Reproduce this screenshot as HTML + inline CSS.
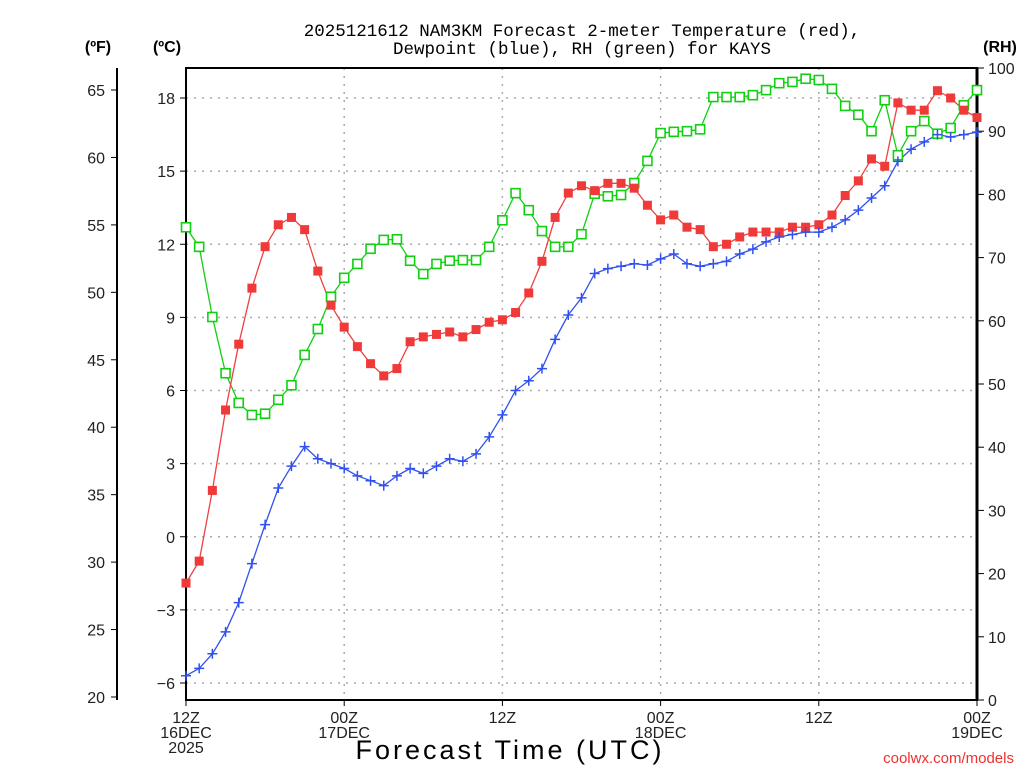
<!DOCTYPE html>
<html><head><meta charset="utf-8">
<style>
html,body{margin:0;padding:0;background:#fff;}
svg{display:block;font-family:"Liberation Sans",sans-serif;}
</style></head>
<body>
<svg id="chart" width="1024" height="768" viewBox="0 0 1024 768">
<g id="grid"></g>
<g id="axes"></g>
<g id="series"></g>
<text x="582" y="36" font-size="17.5" font-family="Liberation Mono, monospace" text-anchor="middle">2025121612 NAM3KM Forecast 2-meter Temperature (red),</text>
<text x="582" y="54" font-size="17.5" font-family="Liberation Mono, monospace" text-anchor="middle">Dewpoint (blue), RH (green) for KAYS</text>
<text x="98" y="52" font-size="16" font-weight="bold" text-anchor="middle">(ºF)</text>
<text x="167" y="52" font-size="16" font-weight="bold" text-anchor="middle">(ºC)</text>
<text x="1000" y="52" font-size="16" font-weight="bold" text-anchor="middle">(RH)</text>
<text x="510" y="759" font-size="27" text-anchor="middle" letter-spacing="3">Forecast Time (UTC)</text>
<text x="1014" y="763" font-size="15" fill="#f03030" text-anchor="end">coolwx.com/models</text>
</svg>
<script>
const hours = [];
for (let i = 0; i <= 60; i++) hours.push(i);
const tempC = [-1.9,-1.0,1.9,5.2,7.9,10.2,11.9,12.8,13.1,12.6,10.9,9.5,8.6,7.8,7.1,6.6,6.9,8.0,8.2,8.3,8.4,8.2,8.5,8.8,8.9,9.2,10.0,11.3,13.1,14.1,14.4,14.2,14.5,14.5,14.3,13.6,13.0,13.2,12.7,12.6,11.9,12.0,12.3,12.5,12.5,12.5,12.7,12.7,12.8,13.2,14.0,14.6,15.5,15.2,17.8,17.5,17.5,18.3,18.0,17.5,17.2];
const dewC = [-5.7,-5.4,-4.8,-3.9,-2.7,-1.1,0.5,2.0,2.9,3.7,3.2,3.0,2.8,2.5,2.3,2.1,2.5,2.8,2.6,2.9,3.2,3.1,3.4,4.1,5.0,6.0,6.4,6.9,8.1,9.1,9.8,10.8,11.0,11.1,11.2,11.15,11.4,11.6,11.2,11.1,11.2,11.3,11.6,11.8,12.1,12.3,12.4,12.5,12.5,12.7,13.0,13.4,13.9,14.4,15.4,15.9,16.2,16.5,16.4,16.5,16.6];
const rh = [74.8,71.7,60.6,51.7,47.0,45.1,45.3,47.5,49.8,54.6,58.7,63.8,66.8,69.0,71.4,72.8,72.9,69.5,67.4,69.0,69.5,69.6,69.6,71.7,75.9,80.2,77.5,74.2,71.7,71.7,73.7,80.1,79.7,79.9,81.8,85.3,89.7,89.9,90.0,90.3,95.4,95.4,95.4,95.7,96.5,97.6,97.8,98.3,98.1,96.7,94.0,92.6,90.0,94.9,86.2,90.0,91.6,89.6,90.5,94.1,96.5];
const fTicks = [20,25,30,35,40,45,50,55,60,65];
const cTicks = [-6,-3,0,3,6,9,12,15,18];
const rhTicks = [0,10,20,30,40,50,60,70,80,90,100];
const xTickHours = [0,12,24,36,48,60];
const xTickLabels = [["12Z","16DEC","2025"],["00Z","17DEC"],["12Z"],["00Z","18DEC"],["12Z"],["00Z","19DEC"]];

const L=186,R=977,T=68,B=700;
const xs = h => L + (h/60)*(R-L);
const yC = c => 98 + (18-c)*24.375;
const yF = f => 90 + (65-f)*(607/45);
const yRH = r => B - r*(B-T)/100;
const NS="http://www.w3.org/2000/svg";
function mk(tag, attrs, parent){const e=document.createElementNS(NS,tag);for(const k in attrs)e.setAttribute(k,attrs[k]);parent.appendChild(e);return e;}
const grid=document.getElementById('grid'), axes=document.getElementById('axes'), ser=document.getElementById('series');

cTicks.forEach(c=>{
  const y=yC(c);
  const g=mk('line',{x1:L,x2:R,y1:y,y2:y,stroke:'#aaa','stroke-width':1.5,'stroke-dasharray':'2 6'},grid);
  
  
  const t=mk('line',{x1:L-6,x2:L,y1:y,y2:y,stroke:'#000','stroke-width':1},axes);
  
  
  const tx=mk('text',{x:175,y:y+6,'font-size':16,'text-anchor':'end',fill:'#222'},axes);
  tx.textContent=(c<0?'\u2212'+(-c):c);
  
  
});
xTickHours.forEach((h,i)=>{
  const x=xs(h);
  if(h>0&&h<60){
    const g=mk('line',{x1:x,x2:x,y1:T,y2:B,stroke:'#aaa','stroke-width':1.5,'stroke-dasharray':'2 6'},grid);
    
    
  }
  const t=mk('line',{x1:x,x2:x,y1:B,y2:B+6,stroke:'#000','stroke-width':1},axes);
  
  
  xTickLabels[i].forEach((s,j)=>{
    const tx=mk('text',{x:x,y:723+j*15,'font-size':16,'text-anchor':'middle',fill:'#222'},axes);
    tx.textContent=s;
    
    
  });
});
fTicks.forEach(f=>{
  const y=yF(f);
  const t=mk('line',{x1:111,x2:117,y1:y,y2:y,stroke:'#000','stroke-width':1},axes);
  
  
  const tx=mk('text',{x:105,y:y+6,'font-size':16,'text-anchor':'end',fill:'#222'},axes);
  tx.textContent=f;
  
  
});
rhTicks.forEach(r=>{
  const y=yRH(r);
  const t=mk('line',{x1:R,x2:R+7,y1:y,y2:y,stroke:'#000','stroke-width':1},axes);
  
  
  const tx=mk('text',{x:988,y:y+6,'font-size':16,'text-anchor':'start',fill:'#222'},axes);
  tx.textContent=r;
  
  
});
const fa=mk('line',{x1:117,x2:117,y1:T,y2:B,stroke:'#000','stroke-width':2},axes);


const fr=mk('rect',{x:L,y:T,width:R-L,height:B-T,fill:'none',stroke:'#000','stroke-width':2},axes);


const ra=mk('line',{x1:R,x2:R,y1:T,y2:B,stroke:'#000','stroke-width':3},axes);



function line(vals, yf, color, name){
  const pts=vals.map((v,i)=>xs(hours[i]).toFixed(1)+','+yf(v).toFixed(1)).join(' ');
  const p=mk('polyline',{points:pts,fill:'none',stroke:color,'stroke-width':1.3},ser);
  
  
}
line(rh,yRH,'#10d010','rh-line');
line(tempC,yC,'#f04040','temperature-line');
line(dewC,yC,'#3050f0','dewpoint-line');
rh.forEach((v,i)=>{
  const x=xs(hours[i]),y=yRH(v);
  const m=mk('rect',{x:x-4.5,y:y-4.5,width:9,height:9,fill:'#fff',stroke:'#10d010','stroke-width':1.6},ser);
  
  
});
tempC.forEach((v,i)=>{
  const x=xs(hours[i]),y=yC(v);
  const m=mk('rect',{x:x-4.5,y:y-4.5,width:9,height:9,fill:'#f03a3a'},ser);
  
  
});
dewC.forEach((v,i)=>{
  const x=xs(hours[i]),y=yC(v);
  const m=mk('path',{d:`M${x-5},${y}H${x+5}M${x},${y-5}V${y+5}`,stroke:'#3050f0','stroke-width':1.5},ser);
  
  
});
</script>
</body></html>
